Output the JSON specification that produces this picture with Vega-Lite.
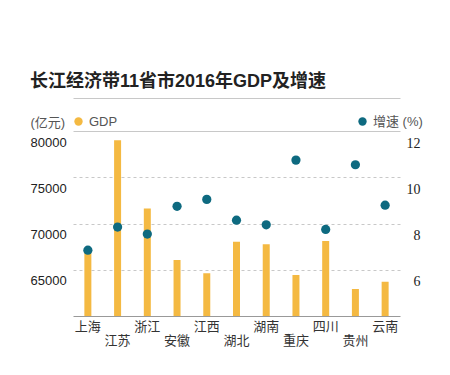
{
  "$schema": "https://vega.github.io/schema/vega-lite/v6.json",
  "width": 390,
  "height": 218,
  "autosize": {"type": "none"},
  "padding": {"left": 30, "top": 98, "right": 30, "bottom": 59},
  "background": "white",
  "config": {
    "view": {"stroke": null},
    "font": "Liberation Sans, Noto Sans CJK SC",
    "legend": {"symbolType": "circle", "symbolSize": 70, "labelFontSize": 13, "labelColor": "#555555", "padding": 0, "labelOffset": 4, "symbolStrokeWidth": 0, "symbolOpacity": 1}
  },
  "title": {
    "text": "长江经济带11省市2016年GDP及增速",
    "anchor": "start",
    "frame": "group",
    "fontSize": 18,
    "fontWeight": "bold",
    "color": "#222222",
    "offset": 7
  },
  "data": {
    "values": [
      {"province": "上海", "gdp": 67100, "growth": 6.85},
      {"province": "江苏", "gdp": 79030, "growth": 7.85},
      {"province": "浙江", "gdp": 71640, "growth": 7.55},
      {"province": "安徽", "gdp": 66050, "growth": 8.75},
      {"province": "江西", "gdp": 64620, "growth": 9.05},
      {"province": "湖北", "gdp": 68030, "growth": 8.15},
      {"province": "湖南", "gdp": 67780, "growth": 7.95},
      {"province": "重庆", "gdp": 64430, "growth": 10.75},
      {"province": "四川", "gdp": 68110, "growth": 7.75},
      {"province": "贵州", "gdp": 62920, "growth": 10.55},
      {"province": "云南", "gdp": 63710, "growth": 8.8}
    ]
  },
  "layer": [
    {
      "mark": {"type": "bar", "size": 7, "clip": true},
      "encoding": {
        "x": {
          "field": "province", "type": "nominal", "sort": null,
          "scale": {"range": [43, 370], "paddingInner": 0, "paddingOuter": 0},
          "axis": {
            "title": null, "domain": false, "ticks": false, "labelAngle": 0,
            "labelFontSize": 13, "labelColor": "#333333", "labelPadding": 4,
            "labelBaseline": "top", "labelLineHeight": 14,
            "labelExpr": "indexof(['江苏','安徽','湖北','重庆','贵州'], datum.value) >= 0 ? ['', datum.value] : datum.value"
          }
        },
        "y": {
          "field": "gdp", "type": "quantitative",
          "scale": {"domain": [60000, 83600], "nice": false, "zero": false},
          "axis": {
            "values": [60000, 65000, 70000, 75000, 80000, 83600],
            "format": "d",
            "labelExpr": "datum.value >= 65000 && datum.value <= 80000 ? datum.label : ''",
            "grid": true,
            "gridColor": {"condition": {"test": "datum.value == 60000", "value": "#999999"}, "value": "#c8c8c8"},
            "gridDash": {"condition": {"test": "datum.value == 60000 || datum.value >= 80000", "value": []}, "value": [3, 3]},
            "domain": false, "ticks": false,
            "labelAlign": "left", "labelBaseline": "top", "labelPadding": 0, "labelOffset": 5,
            "labelFontSize": 13, "labelColor": "#222222",
            "title": "(亿元)", "titleAngle": 0, "titleX": 0, "titleY": 24,
            "titleAlign": "left", "titleBaseline": "middle", "titleFontWeight": "normal",
            "titleFontSize": 13, "titleColor": "#555555"
          }
        },
        "color": {
          "datum": "GDP",
          "scale": {"range": ["#F4B942"]},
          "legend": {"title": null, "orient": "none", "legendX": 42, "legendY": 17}
        }
      }
    },
    {
      "mark": {"type": "circle", "size": 85, "opacity": 1},
      "encoding": {
        "x": {"field": "province", "type": "nominal", "sort": null},
        "y": {
          "field": "growth", "type": "quantitative",
          "scale": {"domain": [4, 13.44], "nice": false, "zero": false},
          "axis": {
            "orient": "right",
            "values": [4, 6, 8, 10, 12],
            "labelExpr": "datum.value >= 6 ? datum.label : ''",
            "grid": false, "domain": false, "ticks": false,
            "labelAlign": "right", "labelBaseline": "top", "labelPadding": 0, "labelOffset": 5,
            "labelFont": "Liberation Serif", "labelFontSize": 14, "labelColor": "#222222",
            "title": null
          }
        },
        "color": {
          "datum": "增速 (%)",
          "scale": {"range": ["#0E6A80"]},
          "legend": {"title": null, "orient": "none", "legendX": 326, "legendY": 17}
        }
      }
    }
  ],
  "resolve": {"scale": {"y": "independent", "color": "independent"}}
}
